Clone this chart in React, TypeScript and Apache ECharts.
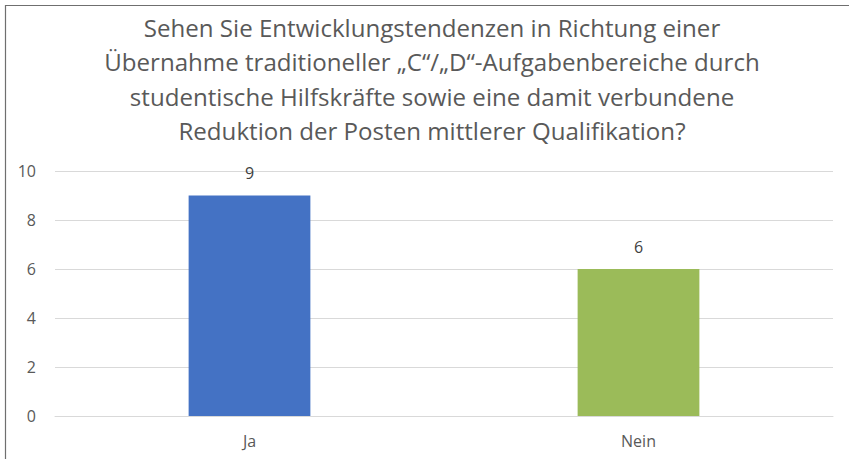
import React, { useEffect, useRef } from "react";
import * as echarts from "echarts";

const categories = ["Ja", "Nein"];
const values = [9, 6];
const barColors = ["#4472C4", "#9BBB59"];
const titleLines = [
  "Sehen Sie Entwicklungstendenzen in Richtung einer",
  "Übernahme traditioneller „C“/„D“-Aufgabenbereiche durch",
  "studentische Hilfskräfte sowie eine damit verbundene",
  "Reduktion der Posten mittlerer Qualifikation?",
];
const yMin = 0;
const yMax = 10;
const yStep = 2;

export default function App() {
  const ref = useRef<HTMLDivElement>(null);
  useEffect(() => {
    if (!ref.current) return;
    const chart = echarts.init(ref.current, undefined, { renderer: "svg" });
    const font = "'Open Sans', 'Noto Sans', sans-serif";
    chart.setOption({
      animation: false,
      backgroundColor: "#ffffff",
      title: {
        text: titleLines.join("\n"),
        left: 427,
        top: 5,
        textAlign: "center",
        textStyle: {
          fontFamily: font,
          fontSize: 24.1,
          fontWeight: "normal",
          color: "#595959",
          lineHeight: 34.5,
          align: "center",
        },
      },
      graphic: [
        {
          type: "line",
          shape: { x1: 5.5, y1: 5, x2: 5.5, y2: 459 },
          style: { stroke: "#6f6f6f", lineWidth: 1.2 },
          silent: true,
        },
        {
          type: "line",
          shape: { x1: 5, y1: 5.5, x2: 849, y2: 5.5 },
          style: { stroke: "#6f6f6f", lineWidth: 1.2 },
          silent: true,
        },
      ],
      grid: { left: 55, right: 16, top: 171, bottom: 43, containLabel: false },
      xAxis: {
        type: "category",
        data: categories,
        axisLine: { show: true, lineStyle: { color: "#d9d9d9", width: 1 } },
        axisTick: { show: false },
        axisLabel: {
          color: "#595959",
          fontFamily: font,
          fontSize: 16,
          margin: 17,
        },
      },
      yAxis: {
        type: "value",
        min: yMin,
        max: yMax,
        interval: yStep,
        axisLine: { show: false },
        axisTick: { show: false },
        splitLine: { lineStyle: { color: "#d9d9d9", width: 1 } },
        axisLabel: {
          color: "#595959",
          fontFamily: font,
          fontSize: 16,
          margin: 19,
        },
      },
      series: [
        {
          type: "bar",
          data: values.map((v, i) => ({ value: v, itemStyle: { color: barColors[i] } })),
          barWidth: "31.3%",
          label: {
            show: true,
            position: "top",
            distance: 14.5,
            color: "#404040",
            fontFamily: font,
            fontSize: 16,
          },
        },
      ],
    });
    return () => chart.dispose();
  }, []);
  return (
    <div
      ref={ref}
      style={{ position: "fixed", left: 0, top: 0, width: 849, height: 459 }}
    />
  );
}
